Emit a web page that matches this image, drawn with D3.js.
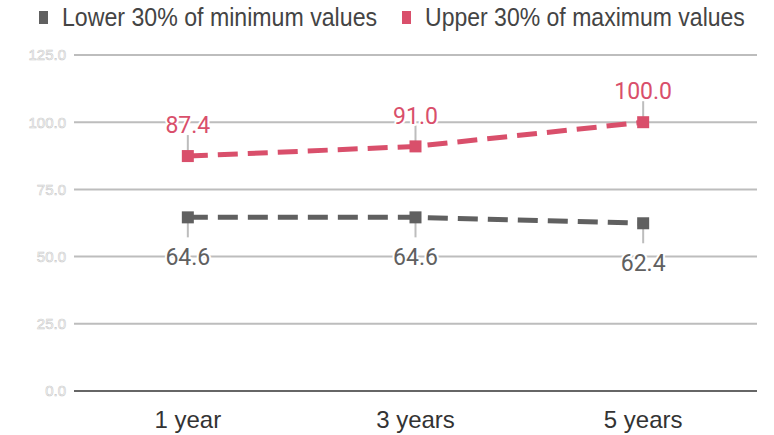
<!DOCTYPE html>
<html>
<head>
<meta charset="utf-8">
<script src="https://cdn.jsdelivr.net/npm/d3@7/dist/d3.min.js"></script>
<style>
  html, body { margin: 0; padding: 0; background: #fff; }
  svg { display: block; font-family: "Liberation Sans", Arial, sans-serif; }
</style>
</head>
<body>
<svg id="chart" width="774" height="435"></svg>
<script>
// Periods on the x axis
const periods = ["1 year", "3 years", "5 years"];
// Series values
const lowerValues = [64.6, 64.6, 62.4];
const upperValues = [87.4, 91.0, 100.0];
// Y axis ticks
const yTicks = [0, 25, 50, 75, 100, 125];
const seriesNames = ["Lower 30% of minimum values", "Upper 30% of maximum values"];
const seriesColors = ["#606060", "#d94f6b"];

const svg = d3.select("#chart");
const plotLeft = 74, plotRight = 757, plotTop = 55, plotBottom = 391;

const x = d3.scaleBand().domain(periods).range([plotLeft, plotRight]);
const y = d3.scaleLinear().domain([0, 125]).range([plotBottom, plotTop]);
const cx = p => x(p) + x.bandwidth() / 2;

// Gridlines
svg.append("g").selectAll("line").data(yTicks.filter(t => t > 0)).join("line")
  .attr("x1", plotLeft).attr("x2", plotRight)
  .attr("y1", d => y(d)).attr("y2", d => y(d))
  .attr("stroke", "#bdbdbd").attr("stroke-width", 2);

// Baseline
svg.append("line").attr("x1", plotLeft).attr("x2", plotRight)
  .attr("y1", y(0)).attr("y2", y(0))
  .attr("stroke", "#666").attr("stroke-width", 2);

// Y tick labels (hollow, outlined text)
svg.append("g").selectAll("text").data(yTicks).join("text")
  .attr("x", 66).attr("y", d => y(d)).attr("dy", "0.36em")
  .attr("text-anchor", "end")
  .attr("font-size", 15)
  .attr("fill", "#fff").attr("stroke", "#cacaca").attr("stroke-width", 0.6)
  .text(d => d.toFixed(1));

// X axis labels
svg.append("g").selectAll("text").data(periods).join("text")
  .attr("x", d => cx(d)).attr("y", 428)
  .attr("text-anchor", "middle")
  .attr("font-size", 24).attr("fill", "#333")
  .text(d => d);

const series = [
  { name: seriesNames[0], values: lowerValues, color: seriesColors[0], labelDir: 1, offset: 39, lead: 20 },
  { name: seriesNames[1], values: upperValues, color: seriesColors[1], labelDir: -1, offset: 31, lead: 21 }
];

const line = d3.line()
  .x((d, i) => cx(periods[i]))
  .y(d => y(d));

series.forEach(s => {
  const g = svg.append("g");
  g.append("path").datum(s.values)
    .attr("d", line)
    .attr("fill", "none")
    .attr("stroke", s.color).attr("stroke-width", 5)
    .attr("stroke-dasharray", "20,10");

  // leader lines
  g.selectAll("line.leader").data(s.values).join("line")
    .attr("class", "leader")
    .attr("x1", (d, i) => cx(periods[i]))
    .attr("x2", (d, i) => cx(periods[i]))
    .attr("y1", d => y(d))
    .attr("y2", d => y(d) + s.labelDir * s.lead)
    .attr("stroke", "#bdbdbd").attr("stroke-width", 2);

  // markers
  g.selectAll("rect").data(s.values).join("rect")
    .attr("x", (d, i) => cx(periods[i]) - 6)
    .attr("y", d => y(d) - 6)
    .attr("width", 12).attr("height", 12)
    .attr("fill", s.color);

  // value labels with white halo
  g.selectAll("text").data(s.values).join("text")
    .attr("x", (d, i) => cx(periods[i]))
    .attr("y", d => y(d) + s.labelDir * s.offset)
    .attr("dy", "0.36em")
    .attr("text-anchor", "middle")
    .attr("font-family", "Roboto, sans-serif")
    .attr("font-size", 23)
    .attr("fill", s.color)
    .attr("stroke", "#fff").attr("stroke-width", 4)
    .attr("stroke-linejoin", "round")
    .attr("paint-order", "stroke")
    .text(d => d.toFixed(1));
});

// Legend (horizontally condensed type)
const legend = svg.append("g");
const legendItems = [
  { name: seriesNames[0], color: seriesColors[0], x: 39, squeeze: 0.89 },
  { name: seriesNames[1], color: seriesColors[1], x: 402, squeeze: 0.886 }
];
legendItems.forEach(it => {
  legend.append("rect").attr("x", it.x).attr("y", 11).attr("width", 9).attr("height", 13)
    .attr("fill", it.color);
  legend.append("text")
    .attr("transform", `translate(${it.x + 23},26) scale(${it.squeeze},1)`)
    .attr("font-size", 26).attr("fill", "#444").text(it.name);
});
</script>
</body>
</html>
